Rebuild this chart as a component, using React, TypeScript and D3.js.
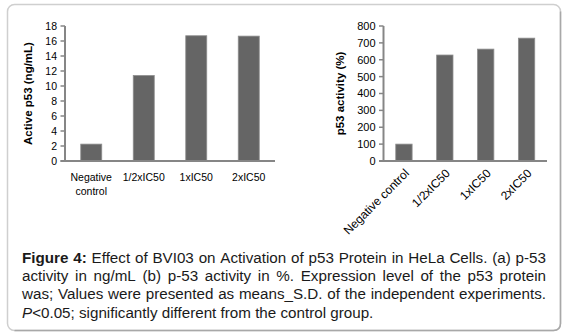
import React from "react";
import * as d3 from "d3";

const categories = ["Negative control", "1/2xIC50", "1xIC50", "2xIC50"];
const leftLabels = [["Negative", "control"], ["1/2xIC50"], ["1xIC50"], ["2xIC50"]];
const activeP53 = [2.25, 11.4, 16.7, 16.65];
const p53Percent = [100, 628, 663, 728];
const leftTicks = [0, 2, 4, 6, 8, 10, 12, 14, 16, 18];
const rightTicks = [0, 100, 200, 300, 400, 500, 600, 700, 800];
const captionLines = [
  "Figure 4: Effect of BVI03 on Activation of p53 Protein in HeLa Cells. (a) p-53",
  "activity in ng/mL (b) p-53 activity in %. Expression level of the p53 protein",
  "was; Values were presented as means_S.D. of the independent experiments.",
  "P<0.05; significantly different from the control group.",
];

const FONT = "'Liberation Sans', Arial, sans-serif";
const AXIS = "#868686";
const BAR = "#656565";
const BAR_EDGE = "#8e8e8e";

function measure(text: string, font: string): number {
  const c = document.createElement("canvas").getContext("2d")!;
  c.font = font;
  return c.measureText(text).width;
}

function Caption() {
  const left = 22, right = 546;
  const size = 15.2;
  const baseY = 263, lh = 18.2;
  const out: React.ReactNode[] = [];
  captionLines.forEach((line, li) => {
    const words = line.split(" ");
    const y = baseY + li * lh;
    const isBold = (wi: number) => li === 0 && (wi === 0 || wi === 1);
    const widths = words.map((w, wi) => measure(w, `${isBold(wi) ? "bold " : ""}${size}px ${FONT}`));
    const total = widths.reduce((a, b) => a + b, 0);
    const justify = li < captionLines.length - 1;
    const space = justify ? (right - left - total) / (words.length - 1) : measure(" ", `${size}px ${FONT}`);
    let x = left;
    words.forEach((w, wi) => {
      if (li === 3 && wi === 0) {
        out.push(
          <text key={`${li}-${wi}`} x={x} y={y} fontFamily={FONT} fontSize={size} fill="#1a1a1a">
            <tspan fontStyle="italic">P</tspan>
            <tspan>{w.slice(1)}</tspan>
          </text>
        );
      } else {
        out.push(
          <text key={`${li}-${wi}`} x={x} y={y} fontFamily={FONT} fontSize={size} fontWeight={isBold(wi) ? "bold" : "normal"} fill="#1a1a1a">
            {w}
          </text>
        );
      }
      x += widths[wi] + space;
    });
  });
  return <g>{out}</g>;
}

function BarChart(props: {
  values: number[];
  ticks: number[];
  max: number;
  x0: number;
  x1: number;
  label: string;
  labelX: number;
  rotated: boolean;
  tickSize: number;
}) {
  const { values, ticks, max, x0, x1, label, labelX, rotated, tickSize } = props;
  const yTop = 26, yBot = 161;
  const y = d3.scaleLinear().domain([0, max]).range([yBot, yTop]);
  const x = d3.scaleBand<string>().domain(categories).range([x0, x1]).paddingInner(0.6).paddingOuter(0.3);
  return (
    <g>
      {values.map((v, i) => (
        <rect
          key={i}
          x={x(categories[i])!}
          y={y(v)}
          width={x.bandwidth()}
          height={yBot - y(v)}
          fill={BAR}
          stroke={BAR_EDGE}
          strokeWidth={0.8}
        />
      ))}
      <line x1={x0} x2={x0} y1={yTop} y2={yBot} stroke={AXIS} strokeWidth={2} />
      <line x1={x0 - 4.5} x2={x1} y1={yBot} y2={yBot} stroke={AXIS} strokeWidth={2} />
      {ticks.map((t) => (
        <g key={t}>
          <line x1={x0 - 4.5} x2={x0} y1={y(t)} y2={y(t)} stroke={AXIS} strokeWidth={1.5} />
          <text x={x0 - 8} y={y(t)} dy="0.36em" textAnchor="end" fontFamily={FONT} fontSize={tickSize} fill="#000">
            {t}
          </text>
        </g>
      ))}
      {categories.map((c, i) => {
        const cx = x(c)! + x.bandwidth() / 2;
        if (rotated) {
          return (
            <text
              key={c}
              transform={`translate(${cx + 3},${yBot + 10}) rotate(-45)`}
              textAnchor="end"
              dy="0.35em"
              fontFamily={FONT}
              fontSize={12}
              fill="#000"
            >
              {c}
            </text>
          );
        }
        return (
          <text key={c} x={cx} y={yBot + 20} textAnchor="middle" fontFamily={FONT} fontSize={tickSize} fill="#000">
            {leftLabels[i].map((s, k) => (
              <tspan key={k} x={cx} dy={k === 0 ? 0 : 14}>
                {s}
              </tspan>
            ))}
          </text>
        );
      })}
      <text
        transform={`translate(${labelX},${(yTop + yBot) / 2}) rotate(-90)`}
        textAnchor="middle"
        dy="0.35em"
        fontFamily={FONT}
        fontSize={11.5}
        fontWeight="bold"
        fill="#000"
      >
        {label}
      </text>
    </g>
  );
}

export default function App() {
  return (
    <svg width={568} height={336} style={{ position: "absolute", left: 0, top: 0, background: "#fff" }}>
      <rect x={7.5} y={4.5} width={553} height={326} rx={7} ry={7} fill="#fff" stroke="#cfcfcf" strokeWidth={1.5} />
      <path d="M 560.5 11.5 L 560.5 323.5 Q 560.5 330.5 553.5 330.5 L 14.5 330.5" fill="none" stroke="#a8a8a8" strokeWidth={1.5} />
      <BarChart values={activeP53} ticks={leftTicks} max={18} x0={65} x1={275} label="Active p53 (ng/mL)" labelX={28} rotated={false} tickSize={10.5} />
      <BarChart values={p53Percent} ticks={rightTicks} max={800} x0={383.5} x1={547} label="p53 activity (%)" labelX={340} rotated={true} tickSize={11} />
      <Caption />
    </svg>
  );
}
